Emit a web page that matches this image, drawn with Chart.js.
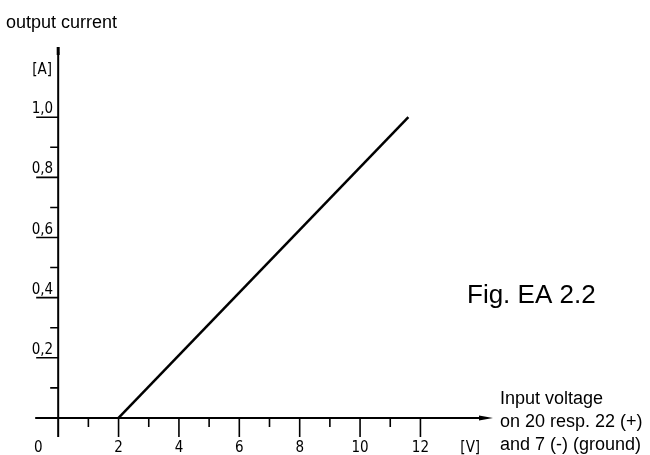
<!DOCTYPE html>
<html>
<head>
<meta charset="utf-8">
<script src="https://cdn.jsdelivr.net/npm/chart.js@4/dist/chart.umd.min.js"></script>
<style>
    html, body { margin: 0; background: #fff; }
    #wrap { position: relative; width: 650px; height: 455px; }
</style>
</head>
<body>
<div id="wrap"><canvas id="chart" width="650" height="455"></canvas></div>
<script>
// input voltage [V] -> output current [A]
const voltage = [2, 11.6];
const current = [0, 1.0];

const xMajorTicks = [2, 4, 6, 8, 10, 12];
const xMinorTicks = [1, 3, 5, 7, 9, 11];
const xTickValues = [0, 2, 4, 6, 8, 10, 12];
const xTickLabels = ['0', '2', '4', '6', '8', '10', '12'];

const yMajorTicks = [0.2, 0.4, 0.6, 0.8, 1.0];
const yMinorTicks = [0.1, 0.3, 0.5, 0.7, 0.9];
const yTickLabels = ['0,2', '0,4', '0,6', '0,8', '1,0'];

const tickFont = "15px 'Liberation Sans Narrow', 'DejaVu Sans Condensed', sans-serif";
const textFont = "18px 'Liberation Sans', Arial, sans-serif";

const drawing = {
    id: 'drawing',
    beforeDatasetsDraw(chart) {
        const ctx = chart.ctx;
        const xs = chart.scales.x;
        const ys = chart.scales.y;
        const x0 = xs.getPixelForValue(0);
        const y0 = ys.getPixelForValue(0);
        ctx.save();
        ctx.strokeStyle = '#000';
        ctx.fillStyle = '#000';

        // axes
        ctx.lineWidth = 2;
        ctx.beginPath();
        ctx.moveTo(x0 - 23, y0);
        ctx.lineTo(482, y0);
        ctx.moveTo(x0, y0 + 19);
        ctx.lineTo(x0, 52);
        ctx.stroke();
        ctx.fillRect(x0 - 1.5, 47, 3, 8);

        // arrow on x axis
        ctx.beginPath();
        ctx.moveTo(479, y0 - 2.5);
        ctx.lineTo(493, y0);
        ctx.lineTo(479, y0 + 2.5);
        ctx.closePath();
        ctx.fill();

        // y ticks
        ctx.lineWidth = 1.6;
        ctx.beginPath();
        yMajorTicks.forEach(v => {
            const y = ys.getPixelForValue(v);
            ctx.moveTo(x0 - 22, y);
            ctx.lineTo(x0, y);
        });
        yMinorTicks.forEach(v => {
            const y = ys.getPixelForValue(v);
            ctx.moveTo(x0 - 8, y);
            ctx.lineTo(x0, y);
        });
        // x ticks
        xMajorTicks.forEach(v => {
            const x = xs.getPixelForValue(v);
            ctx.moveTo(x, y0);
            ctx.lineTo(x, y0 + 19);
        });
        xMinorTicks.forEach(v => {
            const x = xs.getPixelForValue(v);
            ctx.moveTo(x, y0);
            ctx.lineTo(x, y0 + 9);
        });
        ctx.stroke();

        // tick labels
        ctx.font = tickFont;
        ctx.textAlign = 'right';
        ctx.textBaseline = 'alphabetic';
        yMajorTicks.forEach((v, i) => {
            ctx.fillText(yTickLabels[i], x0 - 5, ys.getPixelForValue(v) - 4);
        });
        ctx.textAlign = 'center';
        ctx.textBaseline = 'middle';
        xTickValues.forEach((v, i) => {
            const shift = v === 0 ? -20 : 0;
            ctx.fillText(xTickLabels[i], xs.getPixelForValue(v) + shift, 448);
        });
        ctx.fillText('[A]', x0 - 16, 70);
        ctx.fillText('[V]', xs.getPixelForValue(13.65), 448);

        // texts
        ctx.font = textFont;
        ctx.textAlign = 'left';
        ctx.textBaseline = 'alphabetic';
        ctx.fillText('output current', 6, 28);
        ctx.fillText('Input voltage', 500, 404);
        ctx.fillText('on 20 resp. 22 (+)', 500, 427);
        ctx.fillText('and 7 (-) (ground)', 500, 450);
        ctx.font = "26px 'Liberation Sans', Arial, sans-serif";
        ctx.fillText('Fig. EA 2.2', 467, 303);
        ctx.restore();
    }
};

new Chart(document.getElementById('chart'), {
    type: 'line',
    data: {
        datasets: [{
            data: voltage.map((v, i) => ({ x: v, y: current[i] })),
            borderColor: '#000',
            borderWidth: 2.5,
            pointRadius: 0,
            tension: 0,
        }],
    },
    options: {
        responsive: false,
        animation: false,
        layout: { padding: { left: 28, right: 139, top: 27, bottom: 7 } },
        plugins: { legend: { display: false }, tooltip: { enabled: false } },
        scales: {
            x: { type: 'linear', display: false, min: -1, max: 15 },
            y: { type: 'linear', display: false, min: -0.1, max: 1.3 },
        },
    },
    plugins: [drawing],
});
</script>
</body>
</html>
